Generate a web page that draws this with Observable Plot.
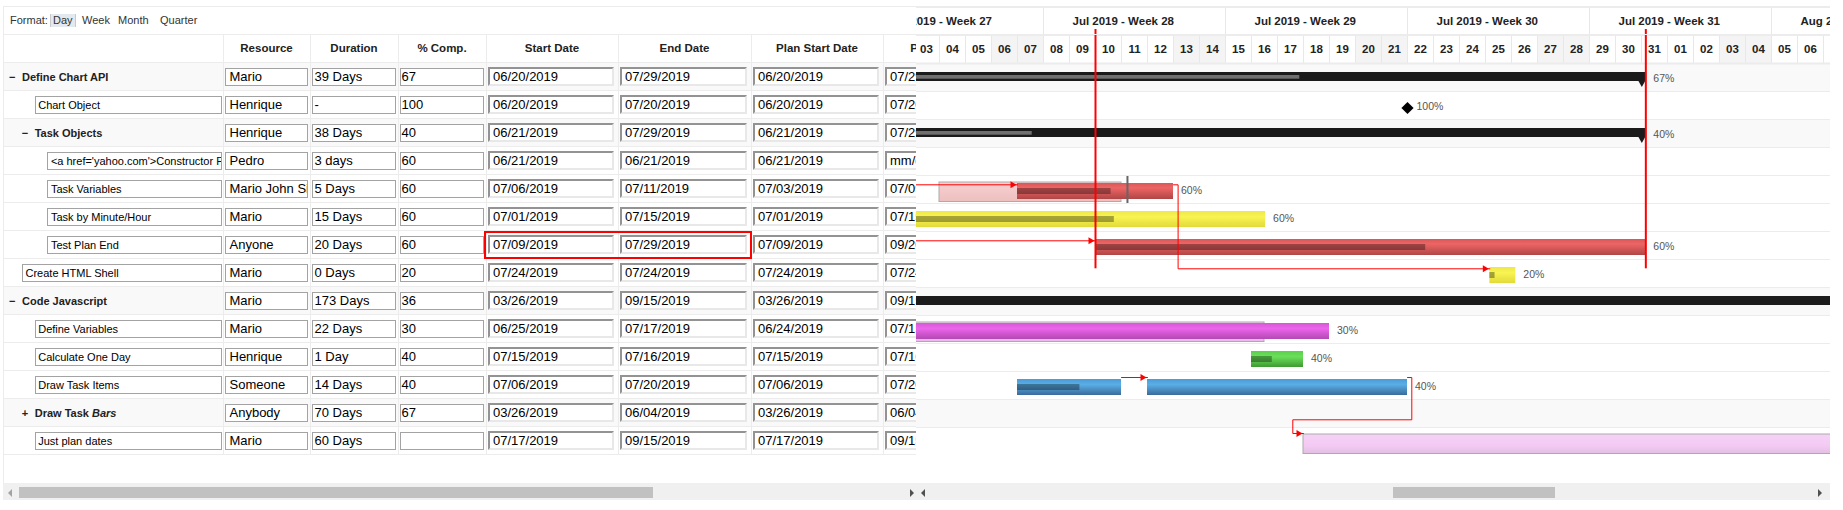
<!DOCTYPE html>
<html><head><meta charset="utf-8">
<script src="https://cdn.jsdelivr.net/npm/d3@7"></script>
<script src="https://cdn.jsdelivr.net/npm/@observablehq/plot@0.6"></script>
<style>
html,body{margin:0;padding:0;background:#fff;}
body{width:1843px;height:510px;overflow:hidden;position:relative;font-family:"Liberation Sans",Arial,sans-serif;}
.a{position:absolute;box-sizing:border-box;}
.hdr{font-weight:bold;font-size:11.5px;color:#222;text-align:center;line-height:28px;top:34px;height:28px;white-space:nowrap;}
.box{border:1px solid #a3a3a3;background:#fff;font-size:13px;line-height:16px;height:18px;white-space:nowrap;overflow:hidden;color:#000;}
.nbox{font-size:11px;}
.dbox{border-style:solid;border-width:2px;border-color:#939393 #e8e8e8 #e8e8e8 #939393;background:#fff;font-size:13px;line-height:15px;height:19px;white-space:nowrap;overflow:hidden;color:#000;padding-left:3px;}
.grp{font-weight:bold;font-size:11px;color:#222;line-height:28px;white-space:nowrap;}
.fmt{font-size:11px;color:#333;top:14px;line-height:13px;}
#gantt svg{max-width:none !important;}
</style>
</head><body>
<div id="left" class="a" style="left:0;top:0;width:916px;height:510px;overflow:hidden"></div>
<div id="gantt" class="a" style="left:916px;top:7px;width:914px;height:448px;overflow:hidden"></div>
<script>
// ---------------- data ----------------
const taskNames = ["Define Chart API", "Chart Object", "Task Objects", "<a href='yahoo.com'>Constructor Proc</a>", "Task Variables", "Task by Minute/Hour", "Test Plan End", "Create HTML Shell", "Code Javascript", "Define Variables", "Calculate One Day", "Draw Task Items", "Draw Task Bars", "Just plan dates"];
const taskDepth = [1, 2, 2, 3, 3, 3, 3, 1, 1, 2, 2, 2, 2, 2];
const taskIsGroup = [true, false, true, false, false, false, false, false, true, false, false, false, true, false];
const taskGroupOpen = [true, null, true, null, null, null, null, null, true, null, null, null, false, null];
const taskResource = ["Mario", "Henrique", "Henrique", "Pedro", "Mario John Silva", "Mario", "Anyone", "Mario", "Mario", "Mario", "Henrique", "Someone", "Anybody", "Mario"];
const taskDuration = ["39 Days", "-", "38 Days", "3 days", "5 Days", "15 Days", "20 Days", "0 Days", "173 Days", "22 Days", "1 Day", "14 Days", "70 Days", "60 Days"];
const taskComp = ["67", "100", "40", "60", "60", "60", "60", "20", "36", "30", "40", "40", "67", ""];
const taskStart = ["06/20/2019", "06/20/2019", "06/21/2019", "06/21/2019", "07/06/2019", "07/01/2019", "07/09/2019", "07/24/2019", "03/26/2019", "06/25/2019", "07/15/2019", "07/06/2019", "03/26/2019", "07/17/2019"];
const taskEnd = ["07/29/2019", "07/20/2019", "07/29/2019", "06/21/2019", "07/11/2019", "07/15/2019", "07/29/2019", "07/24/2019", "09/15/2019", "07/17/2019", "07/16/2019", "07/20/2019", "06/04/2019", "09/15/2019"];
const taskPlanStart = ["06/20/2019", "06/20/2019", "06/21/2019", "06/21/2019", "07/03/2019", "07/01/2019", "07/09/2019", "07/24/2019", "03/26/2019", "06/24/2019", "07/15/2019", "07/06/2019", "03/26/2019", "07/17/2019"];
const taskPlanEnd = ["07/29/2019", "07/20/2019", "07/29/2019", "mm/dd/yyyy", "07/09/2019", "07/15/2019", "09/20/2019", "07/24/2019", "09/15/2019", "07/15/2019", "07/16/2019", "07/20/2019", "06/04/2019", "09/15/2019"];
const labelMarkup = {"Draw Task Bars": "Draw Task <i>Bars</i>"};

const columnTitles = ["", "Resource", "Duration", "% Comp.", "Start Date", "End Date", "Plan Start Date", "Plan End Date"];
const formatOptions = ["Day", "Week", "Month", "Quarter"];

// timeline window and header weeks
const viewStart = "2019-07-03", viewEnd = "2019-08-08";
const weekStarts = ["2019-07-01", "2019-07-08", "2019-07-15", "2019-07-22", "2019-07-29", "2019-08-05"];
const weekLabels = ["Jul 2019 - Week 27", "Jul 2019 - Week 28", "Jul 2019 - Week 29", "Jul 2019 - Week 30", "Jul 2019 - Week 31", "Aug 2019 - Week 32"];

// group (summary) bars
const groupTask = ["Define Chart API", "Task Objects", "Code Javascript"];
const groupStart = ["2019-06-20T20:00", "2019-06-21T20:00", "2019-03-26T20:00"];
const groupEnd = ["2019-07-31T04:00", "2019-07-31T04:00", "2019-09-17T04:00"];
const groupPct = [67, 40, 36];

// task bars (Draw Task Items is split in two pieces)
const barTask = ["Task Variables", "Task by Minute/Hour", "Test Plan End", "Create HTML Shell", "Define Variables", "Calculate One Day", "Draw Task Items", "Draw Task Items"];
const barStart = ["2019-07-07", "2019-07-02", "2019-07-10", "2019-07-25T04:00", "2019-06-26", "2019-07-16", "2019-07-07", "2019-07-12"];
const barEnd = ["2019-07-13", "2019-07-16T13:00", "2019-07-31T04:00", "2019-07-26T04:00", "2019-07-19", "2019-07-18", "2019-07-11", "2019-07-22"];
const barProgress = [60, 60, 60, 20, 30, 40, 60, 0];
const barColor = ["red", "yellow", "red", "yellow", "magenta", "green", "blue", "blue"];

// planned bars
const planTask = ["Task Variables", "Define Variables", "Just plan dates"];
const planStart = ["2019-07-04", "2019-06-25", "2019-07-18"];
const planEnd = ["2019-07-11", "2019-07-16T12:00", "2019-09-17"];
const planColor = ["red", "magenta", "pink"];

// milestone
const milestoneTask = ["Chart Object"];
const milestoneDate = ["2019-07-22"];

// dependencies (finish -> start)
const depFrom = ["<a href='yahoo.com'>Constructor Proc</a>", "<a href='yahoo.com'>Constructor Proc</a>", "Task Variables", "Draw Task Items", "Draw Task Items"];
const depFromDate = ["2019-06-22", "2019-06-22", "2019-07-13", "2019-07-11", "2019-07-22"];
const depTo = ["Task Variables", "Test Plan End", "Create HTML Shell", "Draw Task Items", "Just plan dates"];
const depToDate = ["2019-07-07", "2019-07-10", "2019-07-25T04:00", "2019-07-12", "2019-07-18"];

// highlighted vertical lines and plan-end tick
const vLineDate = ["2019-07-10", "2019-07-31T04:00"];
const vLineTo = ["Create HTML Shell", "Create HTML Shell"];
const tickTask = ["Task Variables"];
const tickDate = ["2019-07-11T05:30"];

// ---------------- helpers ----------------
const D = s => new Date(s.length === 10 ? s + "T00:00Z" : s + ":00Z");
const row = name => taskNames.indexOf(name);
const DAY = 864e5, PX = DAY / 26, PY = 1 / 28;
const addPx = (d, px) => new Date(+d + px * PX);

// ---------------- left table (HTML) ----------------
const left = document.getElementById("left");
function el(parent, cls, style, html, text) {
  const e = document.createElement("div");
  e.className = "a " + (cls || "");
  e.setAttribute("style", style);
  if (html != null) e.innerHTML = html;
  if (text != null) e.textContent = text;
  parent.appendChild(e);
  return e;
}
const colX = [3, 223, 310, 398, 486, 618, 751, 883, 1015];
const rowTop = i => 63 + 28 * i;
const nRows = taskNames.length;

// frame lines
el(document.body, "", "left:3px;top:6px;width:1827px;height:1px;background:#ececec");
el(document.body, "", "left:3px;top:34px;width:1827px;height:1px;background:#ececec");
el(left, "", "left:3px;top:6px;width:1px;height:494px;background:#ececec");
el(left, "", "left:3px;top:62px;width:913px;height:2px;background:#ececec");

// format switcher
el(left, "fmt", "left:10px", null, "Format:");
const fmtX = [51, 82, 118, 160];
formatOptions.forEach((f, k) => {
  const st = k === 0 ? "background:#e4e9ef;border-left:1px solid #c9c9c9;border-right:1px solid #c9c9c9;padding:0 2px;top:14px;" : "";
  el(left, "fmt", `left:${fmtX[k] - (k === 0 ? 1 : 0)}px;${st}`, null, f);
});

// group row shading & row lines
for (let i = 0; i < nRows; i++) {
  if (taskIsGroup[i]) el(left, "", `left:4px;top:${rowTop(i)}px;width:912px;height:28px;background:#f9f9f9`);
  el(left, "", `left:4px;top:${rowTop(i) + 27}px;width:912px;height:1px;background:#ececec`);
}
// column separators
for (let c = 1; c < 8; c++) el(left, "", `left:${colX[c]}px;top:34px;width:1px;height:421px;background:#ececec`);
// header titles
for (let c = 1; c < 8; c++) el(left, "hdr", `left:${colX[c]}px;width:${colX[c + 1] - colX[c]}px`, null, columnTitles[c]);

// rows
for (let i = 0; i < nRows; i++) {
  const t = rowTop(i), ind = (taskDepth[i] - 1) * 12.7;
  if (taskIsGroup[i]) {
    el(left, "grp", `left:${9 + ind}px;top:${t}px`, null, taskGroupOpen[i] ? "\u2212" : "+");
    el(left, "grp", `left:${22 + ind}px;top:${t}px`, labelMarkup[taskNames[i]] || null, labelMarkup[taskNames[i]] ? null : taskNames[i]);
  } else {
    const bx = 22 + ind;
    el(left, "box nbox", `left:${bx}px;top:${t + 4.5}px;width:${222 - bx}px;padding-left:2.5px`, null, taskNames[i]);
  }
  const vals = [taskResource[i], taskDuration[i], taskComp[i]];
  const pads = [4, 2, 1];
  vals.forEach((v, k) => {
    const x0 = colX[k + 1], x1 = colX[k + 2];
    el(left, "box", `left:${x0 + 1.5}px;top:${t + 4.5}px;width:${x1 - x0 - 3.5}px;padding-left:${pads[k]}px`, null, v);
  });
  [taskStart[i], taskEnd[i], taskPlanStart[i], taskPlanEnd[i]].forEach((v, k) => {
    const x0 = colX[k + 4], x1 = colX[k + 5];
    el(left, "dbox", `left:${x0 + 2}px;top:${t + 4}px;width:${x1 - x0 - 6}px`, null, v);
  });
}
// highlighted cells (Test Plan End start/end)
el(left, "", `left:484px;top:${rowTop(row("Test Plan End"))}px;width:268px;height:28px;border:2px solid #f00`);

// scrollbars
el(document.body, "", "left:3px;top:483px;width:913px;height:17px;background:#f0f0f0");
el(document.body, "", "left:19px;top:487px;width:634px;height:11px;background:#c1c1c1");
el(document.body, "", "left:916px;top:483px;width:914px;height:17px;background:#f0f0f0");
el(document.body, "", "left:1393px;top:487px;width:162px;height:11px;background:#c1c1c1");
const tri = (x, dir, col) => el(document.body, "", `left:${x}px;top:489px;width:0;height:0;border-top:4px solid transparent;border-bottom:4px solid transparent;${dir === "r" ? "border-left" : "border-right"}:4px solid ${col}`);
tri(8, "l", "#a3a3a3"); tri(910, "r", "#505050"); tri(921, "l", "#505050"); tri(1818, "r", "#505050");

// ---------------- gantt (Plot) ----------------
const xDomain = [D(viewStart), D(viewEnd)];
const days = d3.utcDay.range(xDomain[0], xDomain[1]);
const weeks = weekStarts.map((s, k) => ({start: D(s), label: weekLabels[k]}));
const groups = groupTask.map((t, k) => ({task: t, start: D(groupStart[k]), end: D(groupEnd[k]), pct: groupPct[k]}));
const bars = barTask.map((t, k) => ({task: t, start: D(barStart[k]), end: D(barEnd[k]), pct: barProgress[k], color: barColor[k]}));
const plans = planTask.map((t, k) => ({task: t, start: D(planStart[k]), end: D(planEnd[k]), color: planColor[k]}));
const miles = milestoneTask.map((t, k) => ({task: t, date: D(milestoneDate[k])}));
const WEEK_ROW = -2, DAY_ROW = -1;

// percent labels at the end of each task's last bar
const labelMap = new Map();
for (const b of [...groups, ...bars]) {
  const cur = labelMap.get(b.task);
  if (!cur || b.end > cur) labelMap.set(b.task, b.end);
}
const labels = [...labelMap].map(([task, date]) => ({task, date, text: taskComp[row(task)] + "%"}));
const mileLabels = miles.map(m => ({...m, text: taskComp[row(m.task)] + "%"}));

// dependency routing
const deps = depFrom.map((f, k) => ({id: k, from: f, to: depTo[k], x1: D(depFromDate[k]), x2: D(depToDate[k])}));
const connInset = r => (r >= row("Define Variables") ? 6 : 9.3) * PY;
const depPts = [];
for (const d of deps) {
  const r1 = row(d.from), r2 = row(d.to);
  const y1 = r1 + connInset(r1), y2 = r2 + connInset(r1);
  d.y2 = y2;
  let pts;
  if (r1 === r2) pts = [[d.x1, y1], [d.x2, y2]];
  else if (+d.x2 >= +addPx(d.x1, 10)) {
    const xb = addPx(d.x1, 4.6);
    pts = [[d.x1, y1], [xb, y1], [xb, y2], [d.x2, y2]];
  } else {
    const xb = addPx(d.x1, 4.3), xc = addPx(d.x2, -10.7), ym = r2 - 7.7 * PY;
    pts = [[d.x1, y1], [xb, y1], [xb, ym], [xc, ym], [xc, y2], [d.x2, y2]];
  }
  pts.forEach(([x, y]) => depPts.push({id: d.id, x, y}));
}
const vLines = vLineDate.map((s, k) => ({date: D(s), to: row(vLineTo[k])}));
const ticks = tickTask.map((t, k) => ({r: row(t), date: D(tickDate[k])}));

const font = "Liberation Sans, Arial, sans-serif";
const colorMarks = [];
for (const c of ["red", "yellow", "magenta", "green", "blue"]) {
  colorMarks.push(Plot.rect(bars.filter(b => b.color === c), {
    x1: "start", x2: "end", y1: d => row(d.task), y2: d => row(d.task) + 1,
    insetTop: 8, insetBottom: 4, fill: `url(#g-${c})`
  }));
}
const planMarks = [];
for (const c of ["red", "magenta", "pink"]) {
  planMarks.push(Plot.rect(plans.filter(b => b.color === c), {
    x1: "start", x2: "end", y1: d => row(d.task), y2: d => row(d.task) + 1,
    insetTop: 7, insetBottom: 1.5, fill: `url(#p-${c})`, stroke: "#ababab", strokeWidth: 1
  }));
}

const chart = Plot.plot({
  width: 936, height: 448,
  marginLeft: 0, marginRight: 0, marginTop: 0, marginBottom: 0,
  x: {type: "utc", domain: xDomain, range: [0, 936], axis: null},
  y: {type: "linear", domain: [WEEK_ROW, taskNames.length], range: [0, 448], axis: null},
  style: {background: "transparent", overflow: "hidden", maxWidth: "none"},
  marks: [
    // group row shading
    Plot.rect(taskNames.map((n, i) => i).filter(i => taskIsGroup[i]), {x1: () => xDomain[0], x2: () => xDomain[1], y1: i => i, y2: i => i + 1, fill: "#f9f9f9"}),
    // header weekend shading and separators
    Plot.rect(days.filter(d => d.getUTCDay() % 6 === 0), {x1: d => d, x2: d => d3.utcDay.offset(d, 1), y1: DAY_ROW, y2: DAY_ROW + 1, fill: "#f4f4f4"}),
    Plot.ruleX(days, {x: d => d, y1: DAY_ROW, y2: DAY_ROW + 1, stroke: "#e8e8e8"}),
    Plot.ruleX(weeks, {x: "start", y1: WEEK_ROW, y2: WEEK_ROW + 1, stroke: "#e8e8e8"}),
    Plot.ruleY([WEEK_ROW, DAY_ROW], {stroke: "#ececec"}),
    Plot.ruleY([0], {stroke: "#ececec", strokeWidth: 2}),
    Plot.ruleY(d3.range(1, taskNames.length + 1), {stroke: "#ececec"}),
    Plot.text(days, {x: d => d3.utcHour.offset(d, 12), y: DAY_ROW + 0.5, text: d => d3.utcFormat("%d")(d), fontWeight: "bold", fontSize: 11.5, fontFamily: font, fill: "#222"}),
    Plot.text(weeks, {x: "start", y: WEEK_ROW + 0.5, text: "label", textAnchor: "start", dx: 29, fontWeight: "bold", fontSize: 11.5, fontFamily: font, fill: "#222"}),
    // planned bars
    ...planMarks,
    // group bars
    Plot.rect(groups, {x1: "start", x2: "end", y1: d => row(d.task), y2: d => row(d.task) + 1, insetTop: 9, insetBottom: 10, fill: "#1b1b1b"}),
    Plot.rect(groups, {x1: "start", x2: d => new Date(+d.start + d.pct / 100 * (d.end - d.start)), y1: d => row(d.task), y2: d => row(d.task) + 1, insetTop: 12, insetBottom: 12.3, fill: "#707070"}),
    Plot.dot(groups, {x: "end", y: d => row(d.task) + 0.5, symbol: "triangle", rotate: 180, r: 2.5, dx: -4, dy: 5.5, fill: "#1b1b1b"}),
    Plot.dot(groups, {x: "start", y: d => row(d.task) + 0.5, symbol: "triangle", rotate: 180, r: 2.5, dx: 4, dy: 5.5, fill: "#1b1b1b"}),
    // task bars + progress
    ...colorMarks,
    Plot.rect(bars.filter(b => b.pct > 0), {x1: "start", x2: d => new Date(+d.start + d.pct / 100 * (d.end - d.start)), y1: d => row(d.task), y2: d => row(d.task) + 1, insetTop: 13, insetBottom: 9, fill: "#000", fillOpacity: 0.33}),
    // milestone
    Plot.dot(miles, {x: "date", y: d => row(d.task) + 0.5, symbol: "diamond2", r: 5.5, dy: 2.5, fill: "#000"}),
    // plan end tick
    Plot.ruleX(ticks, {x: "date", y1: d => d.r + PY, y2: d => d.r + 1, stroke: "#666", strokeWidth: 2}),
    // dependencies
    Plot.line(depPts, {x: "x", y: "y", z: "id", stroke: "#f00", strokeWidth: 1, curve: "linear"}),
    Plot.dot(deps, {x: "x2", y: "y2", symbol: "triangle", rotate: 90, r: 2.6, dx: -5, fill: "#f00"}),
    // highlighted vertical lines
    Plot.ruleX(vLines, {x: "date", y1: WEEK_ROW + 22 * PY, y2: d => d.to + 9.3 * PY, stroke: "#f00", strokeWidth: 2}),
    // percent labels
    Plot.text(labels, {x: "date", y: d => row(d.task) + 0.5, text: "text", textAnchor: "start", dx: 7.5, dy: 1.5, fontSize: 10.5, fontFamily: font, fill: "#555"}),
    Plot.text(mileLabels, {x: "date", y: d => row(d.task) + 0.5, text: "text", textAnchor: "start", dx: 9, dy: 1.5, fontSize: 10.5, fontFamily: font, fill: "#555"})
  ]
});

const grad = (id, stops) => `<linearGradient id="${id}" x1="0" y1="0" x2="0" y2="1">${stops.map(([o, c]) => `<stop offset="${o}" stop-color="${c}"/>`).join("")}</linearGradient>`;
chart.insertAdjacentHTML("afterbegin", `<defs>
${grad("g-red", [[0, "#d85858"], [0.3, "#ee6565"], [1, "#b04646"]])}
${grad("g-yellow", [[0, "#eee748"], [0.35, "#f8f452"], [1, "#e2da3a"]])}
${grad("g-magenta", [[0, "#d659d6"], [0.35, "#ec65ec"], [1, "#b348b3"]])}
${grad("g-green", [[0, "#5bcf4c"], [0.35, "#6ae05a"], [1, "#3f9a33"]])}
${grad("g-blue", [[0, "#4b9cd6"], [0.35, "#5aaee6"], [1, "#3a6a9a"]])}
${grad("p-red", [[0, "#f7cfcf"], [1, "#eec0c0"]])}
${grad("p-magenta", [[0, "#f4d0f4"], [1, "#e4bde4"]])}
${grad("p-pink", [[0, "#f6d2f6"], [0.6, "#f3caf3"], [1, "#e2bfe2"]])}
</defs>`);
chart.style.position = "absolute";
chart.style.left = "-3px";
chart.style.top = "0px";
chart.style.maxWidth = "none";
chart.setAttribute("width", 936);
document.getElementById("gantt").appendChild(chart);
</script>
</body></html>
